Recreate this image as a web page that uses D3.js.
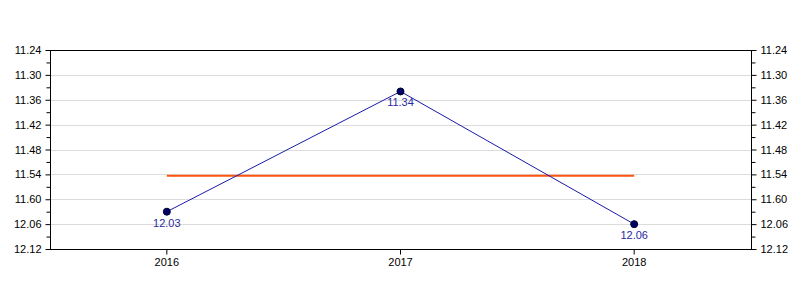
<!DOCTYPE html>
<html lang="en">
<head>
    <meta charset="utf-8">
    <script src="https://d3js.org/d3.v7.min.js"></script>
    <style>
        body { margin: 0; background: #fff; }
        text { font-family: "Liberation Sans", Arial, sans-serif; font-size: 11px; }
    </style>
</head>
<body>
    <svg id="chart"></svg>

    <script type="text/javascript" charset="utf-8">
        // categories and values (times as minutes.seconds)
        const years = ["2016", "2017", "2018"];
        const times = ["12.03", "11.34", "12.06"];
        // y tick positions in seconds and their printed labels
        const tickSeconds = [684, 690, 696, 702, 708, 714, 720, 726, 732];
        const tickLabels = ["11.24", "11.30", "11.36", "11.42", "11.48", "11.54", "11.60", "12.06", "12.12"];
        const minorSeconds = [687, 693, 699, 705, 711, 717, 723, 729];

        const toSeconds = t => {
            const [m, s] = t.split(".");
            return (+m) * 60 + (+s);
        };
        const data = years.map((y, i) => ({ year: y, label: times[i], sec: toSeconds(times[i]) }));
        const avg = d3.mean(data, d => d.sec);

        const width = 800, height = 300;
        const plotLeft = 50, plotRight = 751, plotTop = 50, plotBottom = 249;

        const svg = d3.select("#chart")
            .attr("width", width)
            .attr("height", height);

        const x = d3.scaleBand()
            .domain(years)
            .range([plotLeft, plotRight])
            .padding(0);
        const cx = d => x(d) + x.bandwidth() / 2;

        const y = d3.scaleLinear()
            .domain([tickSeconds[0], tickSeconds[tickSeconds.length - 1]])
            .range([plotTop, plotBottom]);

        // gridlines
        svg.append("g")
            .selectAll("line")
            .data(tickSeconds.slice(1, -1))
            .enter().append("line")
            .attr("x1", plotLeft).attr("x2", plotRight)
            .attr("y1", d => Math.round(y(d)) + 0.5)
            .attr("y2", d => Math.round(y(d)) + 0.5)
            .attr("stroke", "#dcdcdc");

        const fmt = d => tickLabels[tickSeconds.indexOf(d)];

        // left axis
        svg.append("g")
            .attr("transform", `translate(${plotLeft + 0.5},0)`)
            .call(d3.axisLeft(y).tickValues(tickSeconds).tickFormat(fmt).tickSize(5).tickPadding(4))
            .call(g => g.select(".domain").remove());
        svg.append("g")
            .attr("transform", `translate(${plotLeft + 0.5},0)`)
            .call(d3.axisLeft(y).tickValues(minorSeconds).tickFormat("").tickSize(4))
            .call(g => g.select(".domain").remove());

        // right axis
        svg.append("g")
            .attr("transform", `translate(${plotRight + 0.5},0)`)
            .call(d3.axisRight(y).tickValues(tickSeconds).tickFormat(fmt).tickSize(5).tickPadding(4))
            .call(g => g.select(".domain").remove());
        svg.append("g")
            .attr("transform", `translate(${plotRight + 0.5},0)`)
            .call(d3.axisRight(y).tickValues(minorSeconds).tickFormat("").tickSize(4))
            .call(g => g.select(".domain").remove());

        // bottom axis
        svg.append("g")
            .attr("transform", `translate(0,${plotBottom + 0.5})`)
            .call(d3.axisBottom(x).tickSize(5).tickPadding(4))
            .call(g => g.select(".domain").remove());

        svg.selectAll(".tick text").attr("fill", "#000").style("font-size", "11px");

        // frame
        svg.append("rect")
            .attr("x", plotLeft + 0.5).attr("y", plotTop + 0.5)
            .attr("width", plotRight - plotLeft).attr("height", plotBottom - plotTop)
            .attr("fill", "none")
            .attr("stroke", "#000");

        // average line
        svg.append("line")
            .attr("x1", cx(years[0])).attr("x2", cx(years[years.length - 1]))
            .attr("y1", y(avg)).attr("y2", y(avg))
            .attr("stroke", "#ff5511")
            .attr("stroke-width", 2);

        // series line
        svg.append("path")
            .datum(data)
            .attr("fill", "none")
            .attr("stroke", "#1a1aaa")
            .attr("stroke-width", 1)
            .attr("d", d3.line().x(d => cx(d.year)).y(d => y(d.sec)));

        svg.selectAll(".pt")
            .data(data)
            .enter().append("circle")
            .attr("class", "pt")
            .attr("cx", d => cx(d.year))
            .attr("cy", d => y(d.sec))
            .attr("r", 3.5)
            .attr("fill", "#000066")
            .attr("stroke", "#000033");

        svg.selectAll(".lbl")
            .data(data)
            .enter().append("text")
            .attr("class", "lbl")
            .attr("x", d => cx(d.year))
            .attr("y", d => y(d.sec) + 15)
            .attr("text-anchor", "middle")
            .attr("fill", "#2a2aa0")
            .text(d => d.label);
    </script>
</body>
</html>
